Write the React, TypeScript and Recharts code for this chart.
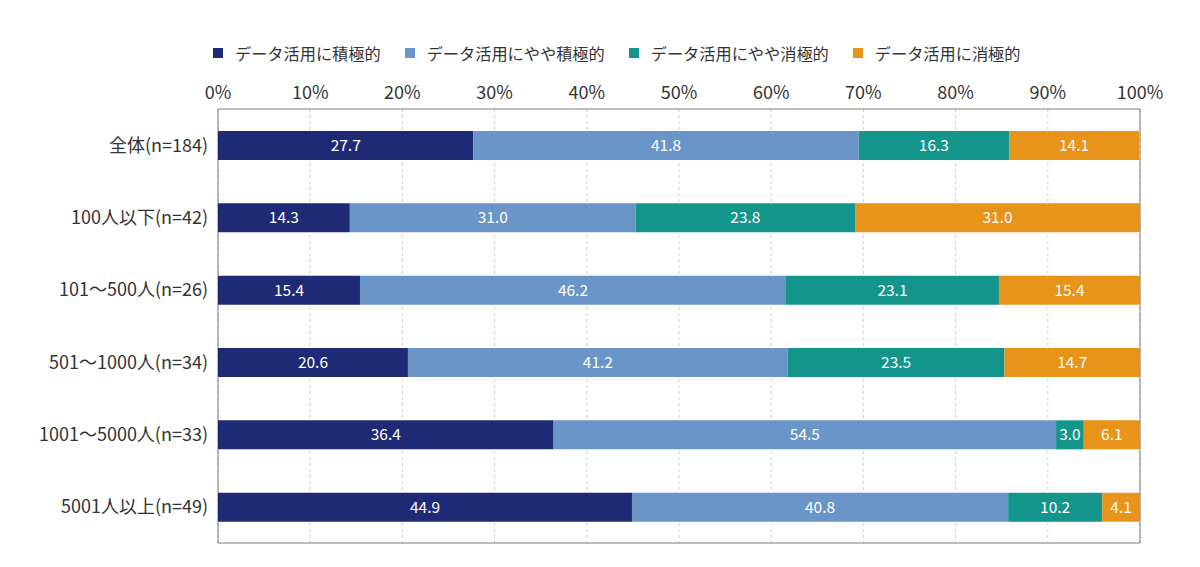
import { BarChart, Bar, XAxis, YAxis, CartesianGrid, Legend, LabelList, ReferenceArea } from 'recharts'

const groups = [
  '全体(n=184)',
  '100人以下(n=42)',
  '101～500人(n=26)',
  '501～1000人(n=34)',
  '1001～5000人(n=33)',
  '5001人以上(n=49)',
]
const active = [27.7, 14.3, 15.4, 20.6, 36.4, 44.9]
const ratherActive = [41.8, 31.0, 46.2, 41.2, 54.5, 40.8]
const ratherPassive = [16.3, 23.8, 23.1, 23.5, 3.0, 10.2]
const passive = [14.1, 31.0, 15.4, 14.7, 6.1, 4.1]
const pctTicks = [0, 10, 20, 30, 40, 50, 60, 70, 80, 90, 100]

const series = [
  { key: 'active', name: 'データ活用に積極的', color: '#1f2a77' },
  { key: 'ratherActive', name: 'データ活用にやや積極的', color: '#6a95c9' },
  { key: 'ratherPassive', name: 'データ活用にやや消極的', color: '#13958b' },
  { key: 'passive', name: 'データ活用に消極的', color: '#e8931a' },
]

const data = groups.map((name, i) => ({
  name,
  active: active[i],
  ratherActive: ratherActive[i],
  ratherPassive: ratherPassive[i],
  passive: passive[i],
}))

const frame = '#7c7c7c'

function LegendRow() {
  return (
    <div style={{ display: 'flex', paddingLeft: 213, height: 26, alignItems: 'center' }}>
      {series.map((s) => (
        <div key={s.key} style={{ display: 'flex', alignItems: 'center', marginRight: 24 }}>
          <span style={{ width: 10, height: 10, background: s.color, marginRight: 12 }} />
          <span style={{ fontSize: 16.2, color: '#333' }}>{s.name}</span>
        </div>
      ))}
    </div>
  )
}

export default function App() {
  return (
    <div style={{ position: 'absolute', left: 0, top: 0, fontFamily: '"Noto Sans CJK JP", "Noto Sans", sans-serif' }}>
      <BarChart
        width={1200}
        height={567}
        data={data}
        layout="vertical"
        margin={{ top: 53, right: 60, bottom: 24, left: 0 }}
      >
        <Legend verticalAlign="top" content={<LegendRow />} wrapperStyle={{ top: 40, left: 0, width: 1200, height: 26 }} />
        <CartesianGrid horizontal={false} strokeDasharray="3 3" stroke="#cfcfcf" />
        <XAxis
          type="number"
          orientation="top"
          domain={[0, 100]}
          allowDataOverflow
          ticks={pctTicks}
          tickFormatter={(v: number) => `${v}%`}
          tick={{ fill: '#333', fontSize: 18 }}
          tickLine={false}
          tickSize={0}
          tickMargin={10}
          axisLine={false}
          height={30}
        />
        <YAxis
          type="category"
          dataKey="name"
          width={218}
          tick={{ fill: '#333', fontSize: 18 }}
          tickLine={false}
          tickSize={0}
          tickMargin={10}
          axisLine={false}
        />
        {series.map((s) => (
          <Bar key={s.key} dataKey={s.key} name={s.name} stackId="a" fill={s.color} barSize={29} isAnimationActive={false}>
            <LabelList
              dataKey={s.key}
              position="center"
              fill="#fff"
              fontSize={15.5}
              formatter={(v: number) => Number(v).toFixed(1)}
            />
          </Bar>
        ))}
        {/* outer frame of the plot */}
        <ReferenceArea x1={0} x2={100} fill="none" stroke={frame} strokeWidth={1} ifOverflow="visible" />
      </BarChart>
    </div>
  )
}
